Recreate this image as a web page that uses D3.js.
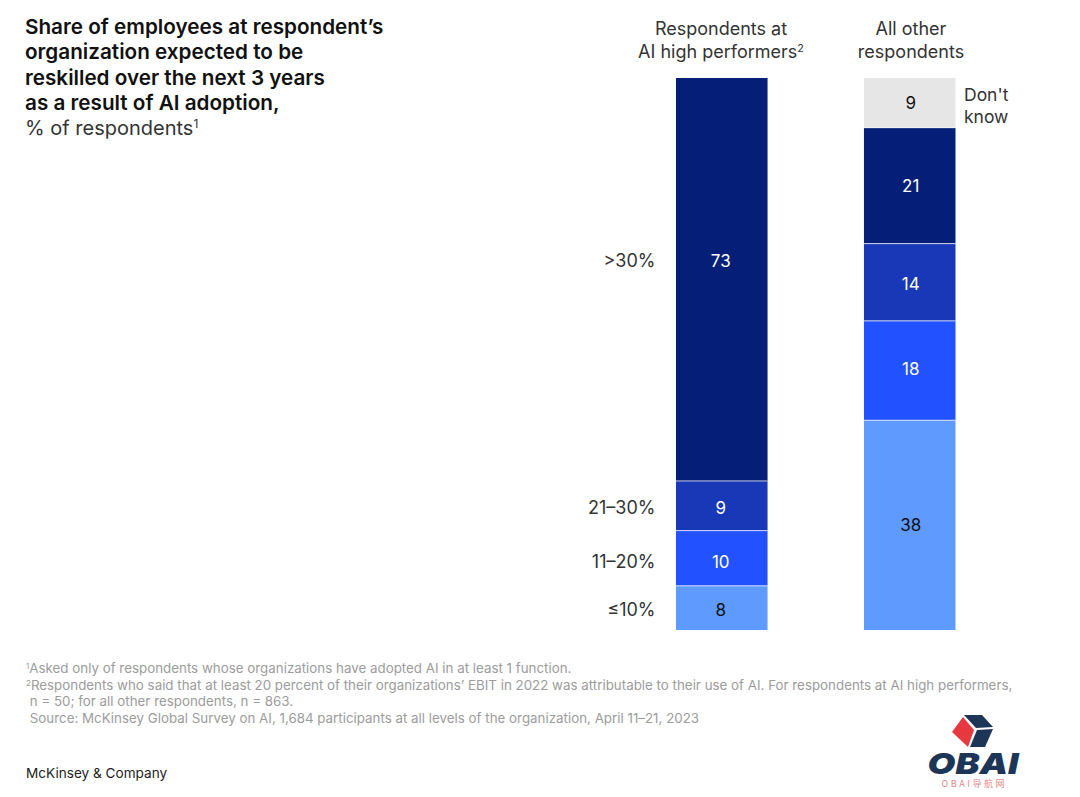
<!DOCTYPE html>
<html>
<head>
<meta charset="utf-8">
<script src="https://cdn.jsdelivr.net/npm/d3@7"></script>
<style>
  html, body { margin: 0; padding: 0; background: #fff; }
  text { font-family: Inter, "Noto Sans", sans-serif; }
  .sup { font-size: 60%; }
</style>
</head>
<body>
<div id="chart"></div>
<script>
// data
var groups = ["high", "other"];
var levels = ["≤10%", "11–20%", "21–30%", ">30%", "Don't know"];
var highValues = [8, 10, 9, 73, 0];
var otherValues = [38, 18, 14, 21, 9];

var colors = ["#5f9bff", "#2251ff", "#1838b8", "#051f78", "#e6e6e6"];
var textColors = ["#111", "#fff", "#fff", "#fff", "#111"];

var titleLines = [
  "Share of employees at respondent’s",
  "organization expected to be",
  "reskilled over the next 3 years",
  "as a result of AI adoption,"
];
var noteMarks = ["1", "2", "", ""];
var noteLines = [
  "Asked only of respondents whose organizations have adopted AI in at least 1 function.",
  "Respondents who said that at least 20 percent of their organizations’ EBIT in 2022 was attributable to their use of AI. For respondents at AI high performers,",
  " n = 50; for all other respondents, n = 863.",
  " Source: McKinsey Global Survey on AI, 1,684 participants at all levels of the organization, April 11–21, 2023"
];

var svgWidth = 1080;
var svgHeight = 797;

// the original labels sit a little off the segment centres
var labelNudge = {
  high: [2, 4, 2, -18, 0],
  other: [0, -2, 2, 0, 0]
};
var labelShift = { high: -1, other: 1 };
var noteY = [673, 690, 706, 723];

var svg = d3.select("#chart")
  .append("svg")
  .attr("width", svgWidth)
  .attr("height", svgHeight)
  .style("display", "block");

var x = d3.scaleBand()
  .domain(groups)
  .range([676, 955.5])
  .paddingInner(0.513);

var y = d3.scaleLinear()
  .domain([0, 100])
  .range([630, 78]);

var valuesByGroup = { high: highValues, other: otherValues };

// stack the two columns
var series = groups.map(function (g) {
  var total = 0;
  return valuesByGroup[g].map(function (v, i) {
    var seg = { group: g, i: i, value: v, y0: total, y1: total + v };
    total = seg.y1;
    return seg;
  }).filter(function (s) { return s.value > 0; });
});
var segments = d3.merge(series);

function labelY(d) {
  return y((d.y0 + d.y1) / 2) + 6 + labelNudge[d.group][d.i];
}

svg.selectAll("rect.seg")
  .data(segments)
  .enter()
  .append("rect")
  .attr("class", "seg")
  .attr("x", d => x(d.group))
  .attr("width", x.bandwidth())
  .attr("y", d => y(d.y1))
  .attr("height", d => y(d.y0) - y(d.y1))
  .attr("fill", d => colors[d.i]);

// thin white separators between segments
svg.selectAll("line.sep")
  .data(segments.filter(d => d.y0 > 0))
  .enter()
  .append("line")
  .attr("class", "sep")
  .attr("x1", d => x(d.group))
  .attr("x2", d => x(d.group) + x.bandwidth())
  .attr("y1", d => y(d.y0))
  .attr("y2", d => y(d.y0))
  .attr("stroke", "#fff")
  .attr("stroke-opacity", 0.75)
  .attr("stroke-width", 1);

svg.selectAll("text.val")
  .data(segments)
  .enter()
  .append("text")
  .attr("class", "val")
  .attr("x", d => x(d.group) + x.bandwidth() / 2 + labelShift[d.group])
  .attr("y", labelY)
  .attr("text-anchor", "middle")
  .attr("font-size", 17)
  .attr("fill", d => textColors[d.i])
  .text(d => d.value);

// category labels left of the first column
svg.selectAll("text.cat")
  .data(series[0])
  .enter()
  .append("text")
  .attr("class", "cat")
  .attr("x", 655.5)
  .attr("y", labelY)
  .attr("text-anchor", "end")
  .attr("font-size", 18)
  .attr("fill", "#333")
  .text(d => levels[d.i]);

// don't know label
var dk = svg.append("text").attr("font-size", 17.5).attr("fill", "#333");
dk.append("tspan").attr("x", 964).attr("y", 101).text("Don't");
dk.append("tspan").attr("x", 964).attr("y", 123).text("know");

// column headers
var h1 = svg.append("text").attr("font-size", 18).attr("fill", "#333").attr("text-anchor", "middle");
h1.append("tspan").attr("x", 721).attr("y", 35).text("Respondents at");
h1.append("tspan").attr("x", 721).attr("y", 58).text("AI high performers");
h1.append("tspan").attr("class", "sup").attr("dy", -6).text("2");

var h2 = svg.append("text").attr("font-size", 18).attr("fill", "#333").attr("text-anchor", "middle");
h2.append("tspan").attr("x", 911).attr("y", 35).text("All other");
h2.append("tspan").attr("x", 911).attr("y", 58).text("respondents");

// title
svg.selectAll("text.title")
  .data(titleLines)
  .enter()
  .append("text")
  .attr("class", "title")
  .attr("x", 25)
  .attr("y", (d, i) => 34 + i * 25.3)
  .attr("font-size", 20.7)
  .attr("font-weight", 600)
  .attr("fill", "#111")
  .text(d => d);

var sub = svg.append("text")
  .attr("x", 25)
  .attr("y", 135)
  .attr("font-size", 20)
  .attr("fill", "#333")
  .text("% of respondents");
sub.append("tspan").attr("class", "sup").attr("dy", -7).text("1");

// footnotes
noteLines.forEach(function (line, i) {
  var t = svg.append("text")
    .attr("x", 26)
    .attr("y", noteY[i])
    .attr("font-size", 13.35)
    .attr("fill", "#9c9c9c")
    .style("white-space", "pre");
  if (noteMarks[i]) t.append("tspan").attr("class", "sup").attr("dy", -4).text(noteMarks[i]);
  t.append("tspan").attr("dy", noteMarks[i] ? 4 : 0).text(line);
});

svg.append("text")
  .attr("x", 26)
  .attr("y", 778)
  .attr("font-size", 13.6)
  .attr("fill", "#222")
  .text("McKinsey & Company");

// watermark logo
var logo = svg.append("g");
logo.append("polygon").attr("points", "952,732 963,717 974,730 968,747").attr("fill", "#e5383f");
logo.append("polygon").attr("points", "964,715 982,715 993,727 976,728").attr("fill", "#1d3557");
logo.append("polygon").attr("points", "977,730 993,729 985,747 970,747").attr("fill", "#1d3557");
logo.append("text")
  .attr("x", 973)
  .attr("y", 774)
  .attr("text-anchor", "middle")
  .attr("font-size", 29)
  .attr("font-weight", 900)
  .attr("font-style", "italic")
  .attr("textLength", 91)
  .attr("lengthAdjust", "spacingAndGlyphs")
  .attr("fill", "#1d3557")
  .text("OBAI");
logo.append("text")
  .attr("x", 973)
  .attr("y", 787)
  .attr("text-anchor", "middle")
  .attr("font-size", 9)
  .attr("textLength", 63)
  .attr("fill", "#e8868a")
  .style("font-family", '"Noto Sans CJK SC"')
  .text("OBAI导航网");
</script>
</body>
</html>
